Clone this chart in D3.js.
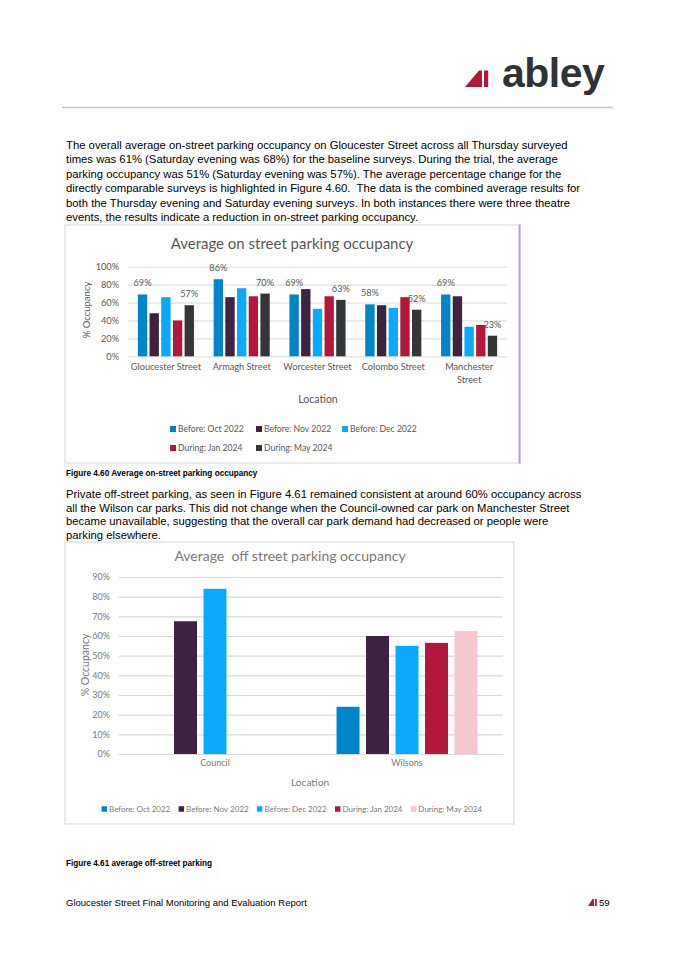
<!DOCTYPE html>
<html lang="en">
<head>
<meta charset="utf-8">
<title>Gloucester Street parking occupancy</title>
<script src="https://cdn.jsdelivr.net/npm/d3@7"></script>
<style>
  body { margin: 0; background: #fff; }
  svg { display: block; }
  .body-text { font: 11.3px "Liberation Sans", Arial, sans-serif; fill: #000; white-space: pre; }
  .caption { font: bold 8.2px "Liberation Sans", Arial, sans-serif; fill: #000; }
  .footer { font: 9.5px "Liberation Sans", Arial, sans-serif; fill: #000; }
  .chart text { font-family: Lato, "Open Sans", sans-serif; white-space: pre; }
  .grid line { stroke: #d9d9d9; }
  .grid path { display: none; }
</style>
</head>
<body>
<script>
// ---- on-street chart (Figure 4.60) ----
var periods = ["Before: Oct 2022", "Before: Nov 2022", "Before: Dec 2022", "During: Jan 2024", "During: May 2024"];

var onStreetLocations = ["Gloucester Street", "Armagh Street", "Worcester Street", "Colombo Street", "Manchester Street"];
var onStreetTickLabels = [["Gloucester Street"], ["Armagh Street"], ["Worcester Street"], ["Colombo Street"], ["Manchester", "Street"]];
var onOct = [0.69, 0.86, 0.69, 0.58, 0.69];
var onNov = [0.48, 0.66, 0.75, 0.57, 0.67];
var onDec = [0.66, 0.76, 0.53, 0.54, 0.33];
var onJan = [0.40, 0.67, 0.67, 0.66, 0.35];
var onMay = [0.57, 0.70, 0.63, 0.52, 0.23];
var onStreetTicks = [0, 0.2, 0.4, 0.6, 0.8, 1];
var onStreetLabelled = ["Before: Oct 2022", "During: May 2024"];

// ---- off-street chart (Figure 4.61) ----
var offStreetLocations = ["Council", "Wilsons"];
var offOct = [null, 0.24];
var offNov = [0.675, 0.60];
var offDec = [0.84, 0.55];
var offJan = [null, 0.565];
var offMay = [null, 0.625];
var offStreetTicks = [0, 0.1, 0.2, 0.3, 0.4, 0.5, 0.6, 0.7, 0.8, 0.9];

var onStreetColors = ["#0085c8", "#3d2241", "#0aa9fc", "#b2183b", "#343739"];
var offStreetColors = ["#0085c8", "#3d2241", "#0aa9fc", "#b2183b", "#f6c7d1"];

var para1 = [
  "The overall average on-street parking occupancy on Gloucester Street across all Thursday surveyed",
  "times was 61% (Saturday evening was 68%) for the baseline surveys. During the trial, the average",
  "parking occupancy was 51% (Saturday evening was 57%). The average percentage change for the",
  "directly comparable surveys is highlighted in Figure 4.60.  The data is the combined average results for",
  "both the Thursday evening and Saturday evening surveys. In both instances there were three theatre",
  "events, the results indicate a reduction in on-street parking occupancy."
];
var para2 = [
  "Private off-street parking, as seen in Figure 4.61 remained consistent at around 60% occupancy across",
  "all the Wilson car parks. This did not change when the Council-owned car park on Manchester Street",
  "became unavailable, suggesting that the overall car park demand had decreased or people were",
  "parking elsewhere."
];

var svg = d3.select("body").append("svg")
  .attr("width", 675)
  .attr("height", 955);

// header: logo + rule
var logo = svg.append("g");
logo.append("polygon").attr("points", "465,87 479,70.5 482,70.5 482,87").attr("fill", "#b2183b");
logo.append("rect").attr("x", 484).attr("y", 70.5).attr("width", 4.2).attr("height", 16.5).attr("fill", "#b2183b");
logo.append("text")
  .attr("x", 502).attr("y", 87)
  .attr("font-family", "'Liberation Sans', Arial, sans-serif")
  .attr("font-weight", "bold")
  .attr("font-size", 41)
  .attr("letter-spacing", -0.5)
  .attr("fill", "#303236")
  .text("abley");

svg.append("line")
  .attr("x1", 62).attr("x2", 613).attr("y1", 107.5).attr("y2", 107.5)
  .attr("stroke", "#c6c6c6").attr("stroke-width", 1.5);

function paragraph(lines, y0, step) {
  svg.append("g").selectAll("text")
    .data(lines)
    .enter().append("text")
    .attr("class", "body-text")
    .attr("x", 66)
    .attr("y", function(d, i) { return y0 + i * step; })
    .text(function(d) { return d; });
}

paragraph(para1, 149, 14.4);
paragraph(para2, 498, 13.5);

svg.append("text").attr("class", "caption").attr("x", 66).attr("y", 476)
  .text("Figure 4.60 Average on-street parking occupancy");
svg.append("text").attr("class", "caption").attr("x", 66).attr("y", 866)
  .text("Figure 4.61 average off-street parking");

// footer
svg.append("text").attr("class", "footer").attr("x", 66).attr("y", 906)
  .text("Gloucester Street Final Monitoring and Evaluation Report");
svg.append("polygon").attr("points", "588,906 592.5,899 594,899 594,906").attr("fill", "#b2183b");
svg.append("rect").attr("x", 595).attr("y", 899).attr("width", 1.8).attr("height", 7).attr("fill", "#b2183b");
svg.append("text").attr("class", "footer").attr("x", 599).attr("y", 906).text("59");

function drawChart(c) {
  var g = svg.append("g").attr("class", "chart");

  g.append("rect")
    .attr("x", c.frame[0] + 0.5).attr("y", c.frame[1] + 0.5)
    .attr("width", c.frame[2]).attr("height", c.frame[3])
    .attr("fill", "#fff")
    .attr("stroke", "#d6d6d6");
  if (c.rightEdge) {
    g.append("line")
      .attr("x1", c.frame[0] + c.frame[2]).attr("x2", c.frame[0] + c.frame[2])
      .attr("y1", c.frame[1]).attr("y2", c.frame[1] + c.frame[3] + 1)
      .attr("stroke", c.rightEdge).attr("stroke-width", 2);
  }

  g.append("text")
    .attr("x", c.titlePos[0]).attr("y", c.titlePos[1])
    .attr("dy", "0.35em")
    .attr("text-anchor", "middle")
    .attr("font-size", c.titleSize)
    .attr("fill", c.textColor)
    .text(c.title);

  var x0 = d3.scaleBand()
    .domain(c.categories)
    .range([c.plot.left, c.plot.right])
    .paddingInner(c.gap)
    .paddingOuter(c.gap / 2);

  var x1 = d3.scaleBand()
    .domain(c.series)
    .range([0, x0.bandwidth()])
    .paddingInner(c.barPad);

  var y = d3.scaleLinear()
    .domain([0, c.yMax])
    .range([c.plot.bottom, c.plot.top]);

  var color = d3.scaleOrdinal().domain(c.series).range(c.colors);

  var grid = g.append("g")
    .attr("class", "grid")
    .attr("transform", "translate(" + c.plot.left + ",0)")
    .call(d3.axisLeft(y)
      .tickValues(c.ticks)
      .tickFormat(d3.format(".0%"))
      .tickSize(-(c.plot.right - c.plot.left))
      .tickPadding(c.tickPad));
  grid.attr("font-family", null).attr("font-size", null);
  grid.selectAll("line").attr("stroke-width", c.gridWidth);
  grid.selectAll("text")
    .attr("font-size", c.fontSize)
    .attr("fill", c.textColor);

  var groups = g.append("g").selectAll("g")
    .data(c.rows)
    .enter().append("g")
    .attr("transform", function(d) { return "translate(" + x0(d.location) + ",0)"; });

  groups.selectAll("rect")
    .data(function(d) {
      return c.series.map(function(s, i) { return { key: s, value: d.values[i] }; })
        .filter(function(e) { return e.value != null; });
    })
    .enter().append("rect")
    .attr("x", function(d) { return x1(d.key); })
    .attr("y", function(d) { return y(d.value); })
    .attr("width", x1.bandwidth())
    .attr("height", function(d) { return y(0) - y(d.value); })
    .attr("fill", function(d) { return color(d.key); });

  if (c.labelled) {
    groups.selectAll("text.value")
      .data(function(d) {
        return c.series.map(function(s, i) { return { key: s, value: d.values[i] }; })
          .filter(function(e) { return e.value != null && c.labelled.indexOf(e.key) >= 0; });
      })
      .enter().append("text")
      .attr("class", "value")
      .attr("x", function(d) { return x1(d.key) + x1.bandwidth() / 2; })
      .attr("y", function(d) { return y(d.value) - 8; })
      .attr("text-anchor", "middle")
      .attr("font-size", c.fontSize)
      .attr("fill", c.textColor)
      .text(function(d) { return d3.format(".0%")(d.value); });
  }

  // category labels
  var cats = g.append("g").selectAll("text")
    .data(c.categories)
    .enter().append("text")
    .attr("x", function(d) { return x0(d) + x0.bandwidth() / 2; })
    .attr("y", c.catY)
    .attr("dy", "0.35em")
    .attr("text-anchor", "middle")
    .attr("font-size", c.catSize || c.fontSize)
    .attr("fill", c.textColor);
  cats.selectAll("tspan")
    .data(function(d, i) { return c.catLabels[i]; })
    .enter().append("tspan")
    .attr("x", function() { return this.parentNode.getAttribute("x"); })
    .attr("dy", function(d, i) { return i === 0 ? 0 : c.catLine; })
    .text(function(d) { return d; });

  g.append("text")
    .attr("x", c.xTitle[0]).attr("y", c.xTitle[1])
    .attr("dy", "0.35em")
    .attr("text-anchor", "middle")
    .attr("font-size", c.axisTitleSize)
    .attr("fill", c.textColor)
    .text("Location");

  g.append("text")
    .attr("transform", "translate(" + c.yTitle[0] + "," + c.yTitle[1] + ") rotate(-90)")
    .attr("dy", "0.35em")
    .attr("text-anchor", "middle")
    .attr("font-size", c.yTitleSize)
    .attr("fill", c.textColor)
    .text("% Occupancy");

  // legend
  var items = g.append("g").selectAll("g")
    .data(c.series)
    .enter().append("g");
  items.append("rect")
    .attr("y", -c.legendSq / 2)
    .attr("width", c.legendSq).attr("height", c.legendSq)
    .attr("fill", function(d) { return color(d); });
  items.append("text")
    .attr("x", c.legendSq + 2)
    .attr("dy", "0.35em")
    .attr("font-size", c.legendSize)
    .attr("fill", c.textColor)
    .text(function(d) { return d; });

  if (c.legendCols) {
    items.attr("transform", function(d, i) {
      var col = i % c.legendCols, row = Math.floor(i / c.legendCols);
      return "translate(" + (c.legendX + col * c.legendColW) + "," + c.legendY[row] + ")";
    });
  } else {
    var widths = [];
    items.each(function() { widths.push(this.getBBox().width); });
    var total = d3.sum(widths) + c.legendGap * (widths.length - 1);
    var cx = c.legendCenter - total / 2;
    items.attr("transform", function(d, i) {
      var t = "translate(" + cx + "," + c.legendY[0] + ")";
      cx += widths[i] + c.legendGap;
      return t;
    });
  }
}

var onStreetRows = onStreetLocations.map(function(loc, i) {
  return { location: loc, values: [onOct[i], onNov[i], onDec[i], onJan[i], onMay[i]] };
});
var offStreetRows = offStreetLocations.map(function(loc, i) {
  return { location: loc, values: [offOct[i], offNov[i], offDec[i], offJan[i], offMay[i]] };
});

drawChart({
  title: "Average on street parking occupancy",
  categories: onStreetLocations,
  catLabels: onStreetTickLabels,
  rows: onStreetRows,
  series: periods,
  colors: onStreetColors,
  ticks: onStreetTicks,
  yMax: 1,
  labelled: onStreetLabelled,
  frame: [64.5, 224.5, 455, 238],
  rightEdge: "#b9a2cf",
  titlePos: [292, 244],
  titleSize: 15,
  plot: { left: 128, right: 507, top: 266.7, bottom: 356.3 },
  gap: 0.26,
  barPad: 0.2,
  tickPad: 9,
  gridWidth: 1,
  fontSize: 9.2,
  textColor: "#595959",
  catY: 370,
  catLine: 12.7,
  xTitle: [318, 399],
  axisTitleSize: 10.5,
  yTitle: [87, 310],
  yTitleSize: 9.5,
  legendSq: 6,
  legendSize: 8.6,
  legendCols: 3,
  legendColW: 86,
  legendX: 170,
  legendY: [429, 448]
});

drawChart({
  title: "Average  off street parking occupancy",
  categories: offStreetLocations,
  catLabels: offStreetLocations.map(function(d) { return [d]; }),
  rows: offStreetRows,
  series: periods,
  colors: offStreetColors,
  ticks: offStreetTicks,
  yMax: 0.9,
  labelled: null,
  frame: [64.5, 541.5, 449, 282],
  rightEdge: null,
  titlePos: [290, 556],
  titleSize: 14,
  plot: { left: 119, right: 503, top: 577, bottom: 754 },
  gap: 0.266,
  barPad: 0.22,
  tickPad: 9,
  gridWidth: 1.2,
  fontSize: 9,
  catSize: 9,
  textColor: "#7a7a7a",
  catY: 766,
  catLine: 12,
  xTitle: [310, 782],
  axisTitleSize: 10.2,
  yTitle: [85, 665],
  yTitleSize: 10.5,
  legendSq: 5.5,
  legendSize: 8,
  legendCols: null,
  legendGap: 8,
  legendCenter: 292,
  legendY: [809]
});
</script>
</body>
</html>
